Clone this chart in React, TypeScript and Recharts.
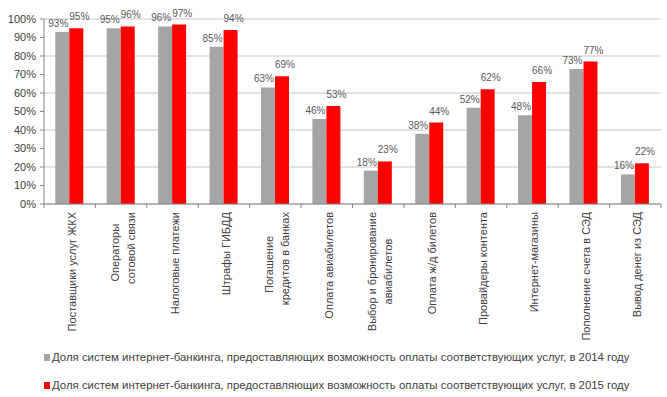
import React from 'react';
import {
  BarChart,
  Bar,
  XAxis,
  YAxis,
  CartesianGrid,
  Legend,
  LabelList,
} from 'recharts';

const categories = [
  'Поставщики услуг ЖКХ',
  'Операторы\nсотовой связи',
  'Налоговые платежи',
  'Штрафы ГИБДД',
  'Погашение\nкредитов в банках',
  'Оплата авиабилетов',
  'Выбор и бронирование\nавиабилетов',
  'Оплата ж/д билетов',
  'Провайдеры контента',
  'Интернет-магазины',
  'Пополнение счета в СЭД',
  'Вывод денег из СЭД',
];

const share2014 = [93, 95, 96, 85, 63, 46, 18, 38, 52, 48, 73, 16];
const share2015 = [95, 96, 97, 94, 69, 53, 23, 44, 62, 66, 77, 22];

const yTicks = [0, 10, 20, 30, 40, 50, 60, 70, 80, 90, 100];

const legendNames = [
  'Доля систем интернет-банкинга, предоставляющих возможность оплаты соответствующих услуг, в 2014 году',
  'Доля систем интернет-банкинга, предоставляющих возможность оплаты соответствующих услуг, в 2015 году',
];

const GRAY = '#a5a5a5';
const RED = '#ff0000';
const TEXT = '#404040';
const AXIS = '#868686';
const FONT = '"Liberation Sans", Arial, sans-serif';

const W = 667;
const H = 397;
const LEFT = 44;
const RIGHT = 6;
const bandW = (W - LEFT - RIGHT) / categories.length;

const data = categories.map((name, i) => ({
  name,
  y2014: share2014[i],
  y2015: share2015[i],
}));

function CategoryTick(props: any) {
  const { x, y, payload, index } = props;
  const lines: string[] = String(payload.value).split('\n');
  const charW = 5.95;
  const maxW = Math.max(...lines.map((l) => l.length * charW));
  const n = lines.length;
  return (
    <g transform={`translate(${x},${y})`}>
      <line x1={-bandW / 2} y1={0} x2={-bandW / 2} y2={4} stroke={AXIS} />
      {index === categories.length - 1 && (
        <line x1={bandW / 2} y1={0} x2={bandW / 2} y2={4} stroke={AXIS} />
      )}
      <text
        transform="rotate(-90)"
        fontSize={11}
        fontFamily={FONT}
        fill={TEXT}
        textAnchor="end"
        dominantBaseline="central"
      >
        {lines.map((l, i) => (
          <tspan
            key={i}
            x={-8 - (maxW - l.length * charW) / 2}
            y={2 + (i - (n - 1) / 2) * 16}
          >
            {l}
          </tspan>
        ))}
      </text>
    </g>
  );
}

function makeLabel(dx: number, lift: number) {
  return (props: any) => {
    const { x, y, width, value } = props;
    return (
      <text
        x={x + width / 2 + dx}
        y={y - lift}
        textAnchor="middle"
        fontSize={10}
        fontFamily={FONT}
        fill="#595959"
      >
        {value}%
      </text>
    );
  };
}

function LegendBox() {
  const colors = [GRAY, RED];
  return (
    <div style={{ width: W, height: 56, position: 'relative', fontFamily: FONT }}>
      {legendNames.map((name, i) => (
        <div
          key={i}
          style={{
            position: 'absolute',
            left: 44,
            top: 9 + i * 28,
            height: 14,
            display: 'flex',
            alignItems: 'center',
            fontSize: 11.4,
            color: TEXT,
            whiteSpace: 'nowrap',
          }}
        >
          <span
            style={{
              display: 'inline-block',
              width: 6,
              height: 7,
              background: colors[i],
              marginRight: 2,
            }}
          />
          {name}
        </div>
      ))}
    </div>
  );
}

export default function App() {
  return (
    <div style={{ position: 'absolute', left: 0, top: 0, background: '#fff' }}>
      <BarChart
        width={W}
        height={H}
        data={data}
        margin={{ top: 19, right: RIGHT, left: 0, bottom: 0 }}
        barCategoryGap="22%"
        barGap={0}
      >
        <CartesianGrid vertical={false} stroke="#c6c6c6" />
        <XAxis
          dataKey="name"
          height={137}
          interval={0}
          tickSize={0}
          tickMargin={0}
          tickLine={false}
          axisLine={{ stroke: AXIS }}
          tick={<CategoryTick />}
        />
        <YAxis
          width={LEFT}
          domain={[0, 100]}
          ticks={yTicks}
          tickFormatter={(v) => `${v}%`}
          tickSize={4}
          tickMargin={4}
          tickLine={{ stroke: AXIS }}
          axisLine={{ stroke: AXIS }}
          tick={{ fontSize: 11, fill: TEXT, fontFamily: FONT }}
        />
        <Legend
          verticalAlign="bottom"
          align="left"
          content={() => <LegendBox />}
        />
        <Bar dataKey="y2014" fill={GRAY} isAnimationActive={false}>
          <LabelList dataKey="y2014" content={makeLabel(-4, 5)} />
        </Bar>
        <Bar dataKey="y2015" fill={RED} isAnimationActive={false}>
          <LabelList dataKey="y2015" content={makeLabel(3, 8)} />
        </Bar>
      </BarChart>
    </div>
  );
}
